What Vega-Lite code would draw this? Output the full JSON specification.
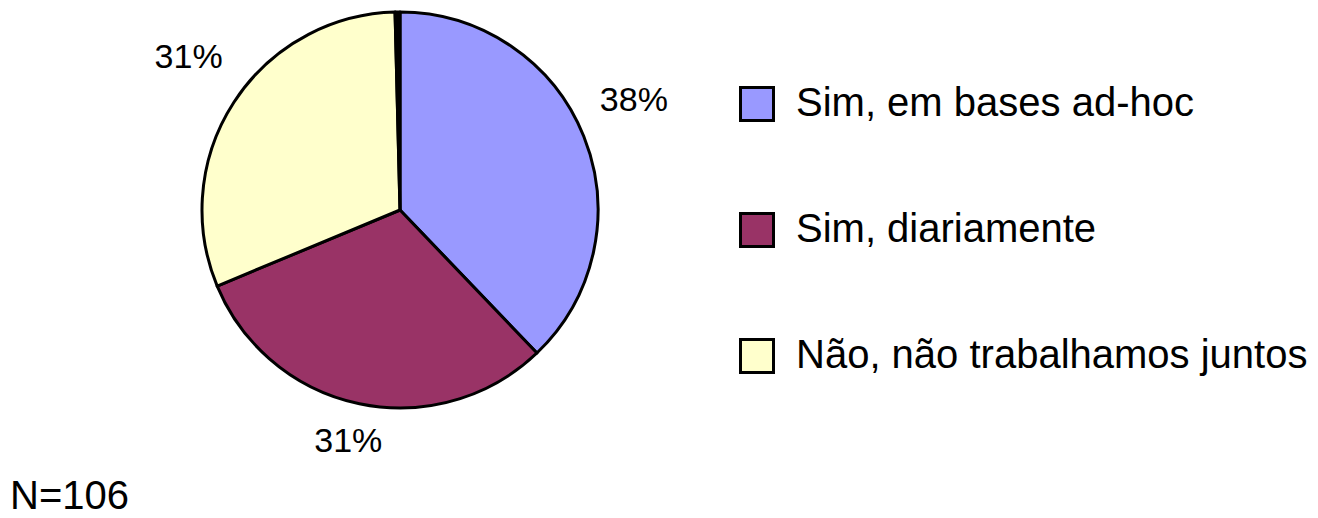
{
  "$schema": "https://vega.github.io/schema/vega-lite/v6.json",
  "width": 780,
  "height": 420,
  "padding": {"left": 10, "top": 0, "right": 528, "bottom": 98},
  "autosize": {"type": "none"},
  "background": "white",
  "config": {"view": {"stroke": null}, "font": "Liberation Sans"},
  "title": {"text": "N=106", "orient": "bottom", "anchor": "start", "frame": "group", "fontSize": 40, "fontWeight": "normal", "font": "Liberation Sans", "color": "black", "offset": 18},
  "data": {"values": [
    {"cat": "Sim, em bases ad-hoc", "value": 38, "o": 1, "label": "38%"},
    {"cat": "Sim, diariamente", "value": 31, "o": 2, "label": "31%"},
    {"cat": "Não, não trabalhamos juntos", "value": 31, "o": 3, "label": "31%"},
    {"cat": "Sem resposta", "value": 0.4, "o": 4, "label": ""}
  ]},
  "encoding": {
    "theta": {"field": "value", "type": "quantitative", "stack": true},
    "order": {"field": "o", "type": "quantitative"}
  },
  "layer": [
    {
      "mark": {"type": "arc", "outerRadius": 198, "stroke": "black", "strokeWidth": 3, "strokeJoin": "round"},
      "encoding": {
        "color": {
          "field": "cat", "type": "nominal",
          "scale": {"domain": ["Sim, em bases ad-hoc", "Sim, diariamente", "Não, não trabalhamos juntos", "Sem resposta"], "range": ["#9999FF", "#993366", "#FFFFCC", "#000000"]},
          "legend": {
            "values": ["Sim, em bases ad-hoc", "Sim, diariamente", "Não, não trabalhamos juntos"],
            "title": null, "orient": "none", "legendX": 727, "legendY": 84,
            "symbolType": "square", "symbolSize": 1089, "symbolStrokeColor": "black", "symbolStrokeWidth": 3,
            "labelFontSize": 40, "labelFont": "Liberation Sans", "labelColor": "black", "labelOffset": 19,
            "rowPadding": 80, "padding": 0, "labelLimit": 700
          }
        }
      }
    },
    {
      "mark": {"type": "text", "radius": 252, "dy": -15, "fontSize": 34, "font": "Liberation Sans", "color": "black"},
      "encoding": {"text": {"field": "label"}}
    }
  ]
}
